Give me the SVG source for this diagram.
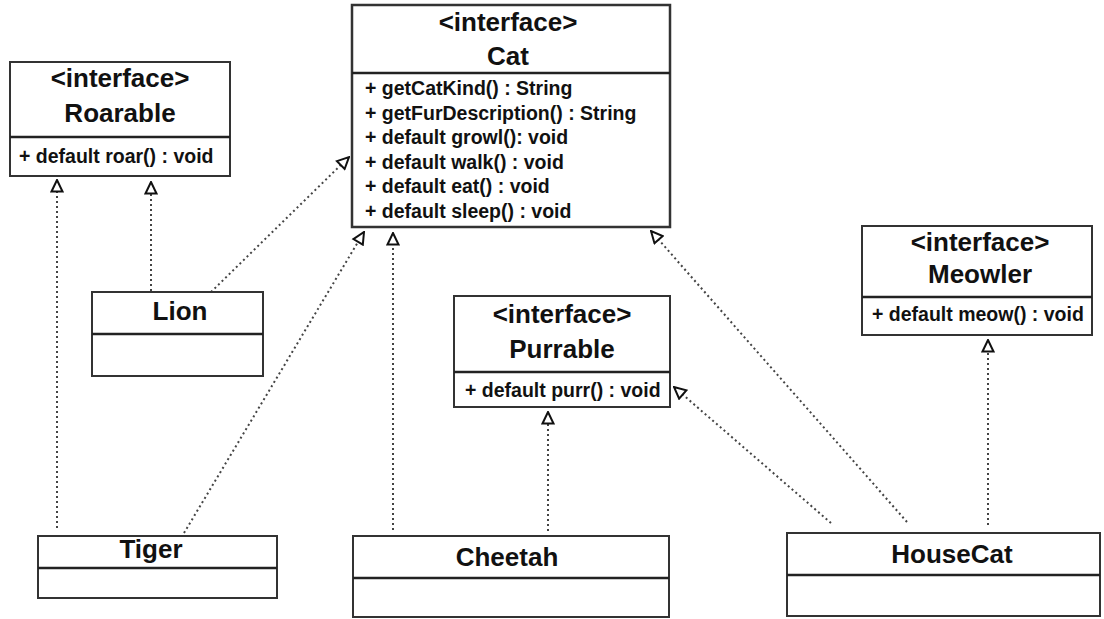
<svg xmlns="http://www.w3.org/2000/svg" width="1104" height="619" viewBox="0 0 1104 619">
<style>
.box{fill:#fff;stroke:#333;stroke-width:2}
.div{stroke:#222;stroke-width:2.5}
.t{font-family:"Liberation Sans",Arial,sans-serif;font-weight:bold;fill:#111}
.h{font-size:26px;text-anchor:middle}
.m{font-size:19.5px}
.c{fill:none;stroke:#444;stroke-width:2;stroke-dasharray:2 3;marker-end:url(#tri)}
</style>
<defs>
<marker id="tri" viewBox="0 0 14 14" refX="13" refY="7" markerWidth="14" markerHeight="14" markerUnits="userSpaceOnUse" orient="auto">
<path d="M1.5,1.5 L13,7 L1.5,12.5 Z" fill="#fff" stroke="#111" stroke-width="2" stroke-linejoin="miter"/>
</marker>
</defs>
<rect width="1104" height="619" fill="#fff"/>
<g id="connectors">
<line class="c" x1="57" y1="528" x2="57" y2="180"/>
<line class="c" x1="151" y1="291" x2="151" y2="182"/>
<line class="c" x1="211" y1="292" x2="349" y2="157"/>
<line class="c" x1="184" y1="533" x2="364" y2="232"/>
<line class="c" x1="393" y1="530" x2="393" y2="233"/>
<line class="c" x1="548" y1="531" x2="548" y2="412"/>
<line class="c" x1="831" y1="523" x2="674" y2="387"/>
<line class="c" x1="907" y1="522" x2="651" y2="231"/>
<line class="c" x1="988" y1="525" x2="988" y2="340"/>
</g>
<g id="Roarable">
<rect class="box" x="10" y="62" width="220" height="114"/>
<line class="div" x1="10" y1="137" x2="230" y2="137"/>
<text class="t h" x="120" y="87">&lt;interface&gt;</text>
<text class="t h" x="120" y="122">Roarable</text>
<text class="t m" x="19" y="163">+ default roar() : void</text>
</g>
<g id="Cat">
<rect class="box" x="352" y="5" width="318" height="222" style="stroke-width:2.5"/>
<line class="div" x1="352" y1="73" x2="670" y2="73"/>
<text class="t h" x="508" y="31">&lt;interface&gt;</text>
<text class="t h" x="508" y="65">Cat</text>
<text class="t m" x="365" y="95">+ getCatKind() : String</text>
<text class="t m" x="365" y="119.5">+ getFurDescription() : String</text>
<text class="t m" x="365" y="144">+ default growl(): void</text>
<text class="t m" x="365" y="168.5">+ default walk() : void</text>
<text class="t m" x="365" y="193">+ default eat() : void</text>
<text class="t m" x="365" y="217.5">+ default sleep() : void</text>
</g>
<g id="Meowler">
<rect class="box" x="862" y="226" width="230" height="109"/>
<line class="div" x1="862" y1="297" x2="1092" y2="297"/>
<text class="t h" x="980" y="251">&lt;interface&gt;</text>
<text class="t h" x="980" y="283">Meowler</text>
<text class="t m" x="872" y="321">+ default meow() : void</text>
</g>
<g id="Purrable">
<rect class="box" x="454" y="296" width="216" height="111"/>
<line class="div" x1="454" y1="372" x2="670" y2="372"/>
<text class="t h" x="562" y="323">&lt;interface&gt;</text>
<text class="t h" x="562" y="358">Purrable</text>
<text class="t m" x="465" y="397">+ default purr() : void</text>
</g>
<g id="Lion">
<rect class="box" x="92" y="292" width="171" height="84"/>
<line class="div" x1="92" y1="334" x2="263" y2="334"/>
<text class="t h" x="180" y="320">Lion</text>
</g>
<g id="Tiger">
<rect class="box" x="38" y="536" width="239" height="62"/>
<line class="div" x1="38" y1="568" x2="277" y2="568"/>
<text class="t h" x="151" y="558">Tiger</text>
</g>
<g id="Cheetah">
<rect class="box" x="353" y="536" width="316" height="81"/>
<line class="div" x1="353" y1="578" x2="669" y2="578"/>
<text class="t h" x="507" y="566">Cheetah</text>
</g>
<g id="HouseCat">
<rect class="box" x="787" y="533" width="313" height="83"/>
<line class="div" x1="787" y1="575" x2="1100" y2="575"/>
<text class="t h" x="952" y="563">HouseCat</text>
</g>
</svg>
